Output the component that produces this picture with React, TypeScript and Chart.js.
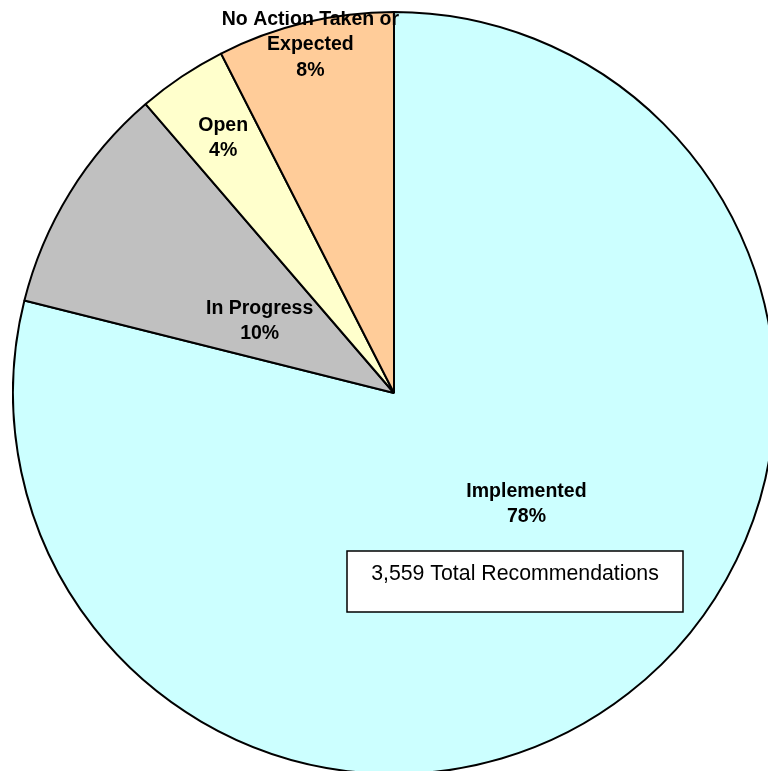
import React, { useEffect, useRef } from "react";
import { Chart, registerables } from "chart.js";

Chart.register(...registerables);

const categories = ["Implemented", "In Progress", "Open", "No Action Taken or Expected"];
const shares = [78.9, 9.8, 3.8, 7.5];
const labelLines = [
  ["Implemented", "78%"],
  ["In Progress", "10%"],
  ["Open", "4%"],
  ["No Action Taken or", "Expected", "8%"],
];
const colors = ["#CCFFFF", "#C0C0C0", "#FFFFCC", "#FFCC99"];
const labelRadius = [0.454, 0.4, 0.805, 0.94];
const labelAngleOffsetDeg = [-12, -3.5, 0, 0];
const totalNote = "3,559 Total Recommendations";

const FONT = '"Liberation Sans", Arial, Helvetica, sans-serif';

const labelPlugin = {
  id: "sliceLabels",
  afterDatasetsDraw(chart: any) {
    const ctx = chart.ctx;
    const meta = chart.getDatasetMeta(0);
    ctx.save();
    ctx.fillStyle = "#000";
    ctx.font = `bold 19.5px ${FONT}`;
    ctx.textAlign = "center";
    ctx.textBaseline = "middle";
    const lh = 25.5;
    let cx = 0, cy = 0;
    meta.data.forEach((arc: any, i: number) => {
      const p = arc.getProps(["x", "y", "startAngle", "endAngle", "outerRadius"], true);
      cx = p.x; cy = p.y;
      const mid = (p.startAngle + p.endAngle) / 2 + (labelAngleOffsetDeg[i] * Math.PI) / 180;
      const r = p.outerRadius * labelRadius[i];
      const x = p.x + Math.cos(mid) * r;
      const y = p.y + Math.sin(mid) * r;
      const lines = labelLines[i];
      const y0 = y - ((lines.length - 1) * lh) / 2;
      lines.forEach((t, k) => ctx.fillText(t, x, y0 + k * lh));
    });
    // total box
    const bx = cx - 47, by = cy + 158, bw = 336, bh = 61;
    ctx.fillStyle = "#fff";
    ctx.fillRect(bx, by, bw, bh);
    ctx.strokeStyle = "#000";
    ctx.lineWidth = 1.5;
    ctx.strokeRect(bx, by, bw, bh);
    ctx.fillStyle = "#000";
    ctx.font = `21.3px ${FONT}`;
    ctx.fillText(totalNote, bx + bw / 2, by + 23);
    ctx.restore();
  },
};

export default function App() {
  const ref = useRef<HTMLCanvasElement>(null);
  useEffect(() => {
    if (!ref.current) return;
    const chart = new Chart(ref.current, {
      type: "pie",
      data: {
        labels: categories,
        datasets: [
          {
            data: shares,
            backgroundColor: colors,
            borderColor: "#000",
            borderWidth: 2,
          },
        ],
      },
      options: {
        responsive: false,
        animation: false,
        layout: { padding: 0 },
        plugins: {
          legend: { display: false },
          tooltip: { enabled: false },
          title: { display: false },
        },
      },
      plugins: [labelPlugin],
    });
    return () => chart.destroy();
  }, []);
  return (
    <div
      style={{
        position: "fixed",
        left: 0,
        top: 0,
        width: 768,
        height: 771,
        overflow: "hidden",
        background: "#fff",
      }}
    >
      <canvas
        ref={ref}
        width={764}
        height={764}
        style={{ position: "absolute", left: 12, top: 11, width: 764, height: 764 }}
      />
    </div>
  );
}
